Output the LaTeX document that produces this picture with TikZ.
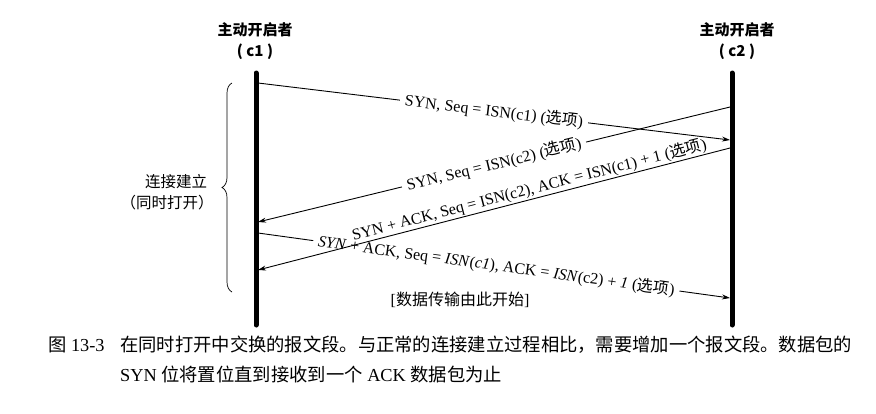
\documentclass[tikz,border=0pt]{standalone}
\usepackage{fontspec}
\setmainfont{Liberation Serif}
\newfontfamily\cjk{Noto Sans CJK SC}
\usetikzlibrary{arrows.meta,decorations.pathreplacing}
\newcommand{\zh}[1]{{\cjk #1}}
\begin{document}
\begin{tikzpicture}[x=1pt,y=-1pt,
  lifeline/.style={line width=5pt,line cap=round},
  msgR/.style={line width=0.9pt,-{Stealth[length=8pt,width=5pt]}},
  msgL/.style={line width=0.9pt,{Stealth[length=8pt,width=5pt]}-},
  lbl/.style={font=\fontsize{16}{18}\selectfont,sloped,inner sep=2pt},
  cutlbl/.style={lbl,fill=white,inner xsep=5pt},
  hdr/.style={font=\cjk\bfseries\fontsize{15}{17}\selectfont,inner sep=0pt},
  sidelbl/.style={font=\cjk\fontsize{15.5}{18}\selectfont,inner sep=0pt},
  captxt/.style={font=\fontsize{18.3}{21}\selectfont,inner sep=0pt,anchor=west}]
\useasboundingbox (0,0) rectangle (876,413);
\fill[white] (0,0) rectangle (876,413);
% headers
\node[hdr] (h1) at (255,30) {主动开启者};
\node[hdr] (h1b) at (255,52) {( c1 )};
\node[hdr] (h2) at (737,30) {主动开启者};
\node[hdr] (h2b) at (737,52) {( c2 )};
% lifelines
\coordinate (At) at (256,73);
\coordinate (Ab) at (256,325);
\coordinate (Bt) at (732,73);
\coordinate (Bb) at (732,325);
\draw[lifeline] (At) -- (Ab);
\draw[lifeline] (Bt) -- (Bb);
% end points on lifelines
\coordinate (L1) at (258,83);   \coordinate (R1) at (730,140);
\coordinate (L2) at (258,222);  \coordinate (R2) at (730,107);
\coordinate (L3) at (258,270);  \coordinate (R3) at (730,148);
\coordinate (L4) at (258,233);  \coordinate (R4) at (730,298);
% messages
\draw[msgR] (L1) -- node[cutlbl] (t1) {SYN, Seq = ISN(c1) (\zh{选项})} (R1);
\draw[msgL] (L2) -- node[cutlbl] (t2) {SYN, Seq = ISN(c2) (\zh{选项})} (R2);
\draw[msgR] (L4) -- node[cutlbl,pos=0.505] (t4) {\textit{SYN} + ACK, Seq = \textit{ISN}(\textit{c1}), ACK = \textit{ISN}(c2) + \textit{1} (\zh{选项})} (R4);
\draw[msgL] (L3) -- node[lbl,above=-1pt,pos=0.58] (t3) {SYN + ACK, Seq = ISN(c2), ACK = ISN(c1) + 1 (\zh{选项})} (R3);
\node[font=\fontsize{16}{18}\selectfont,inner sep=0pt] (data) at (460,300) {[\zh{数据传输由此开始}]};
% brace
\coordinate (Bra) at (232,292);
\coordinate (Brb) at (232,83);
\draw[line width=0.7pt,decorate,decoration={brace,amplitude=10pt}] (Bra) -- (Brb);
\node[sidelbl] (s1) at (176,182) {连接建立};
\node[sidelbl] (s2) at (167,203) {（同时打开）};
% caption
\node[captxt] (fig) at (48,345) {\zh{图} 13-3};
\node[captxt] (cp1) at (120,345) {\zh{在同时打开中交换的报文段。与正常的连接建立过程相比，需要增加一个报文段。数据包的}};
\node[captxt] (cp2) at (120,375) {SYN \zh{位将置位直到接收到一个} ACK \zh{数据包为止}};
\end{tikzpicture}
\end{document}
